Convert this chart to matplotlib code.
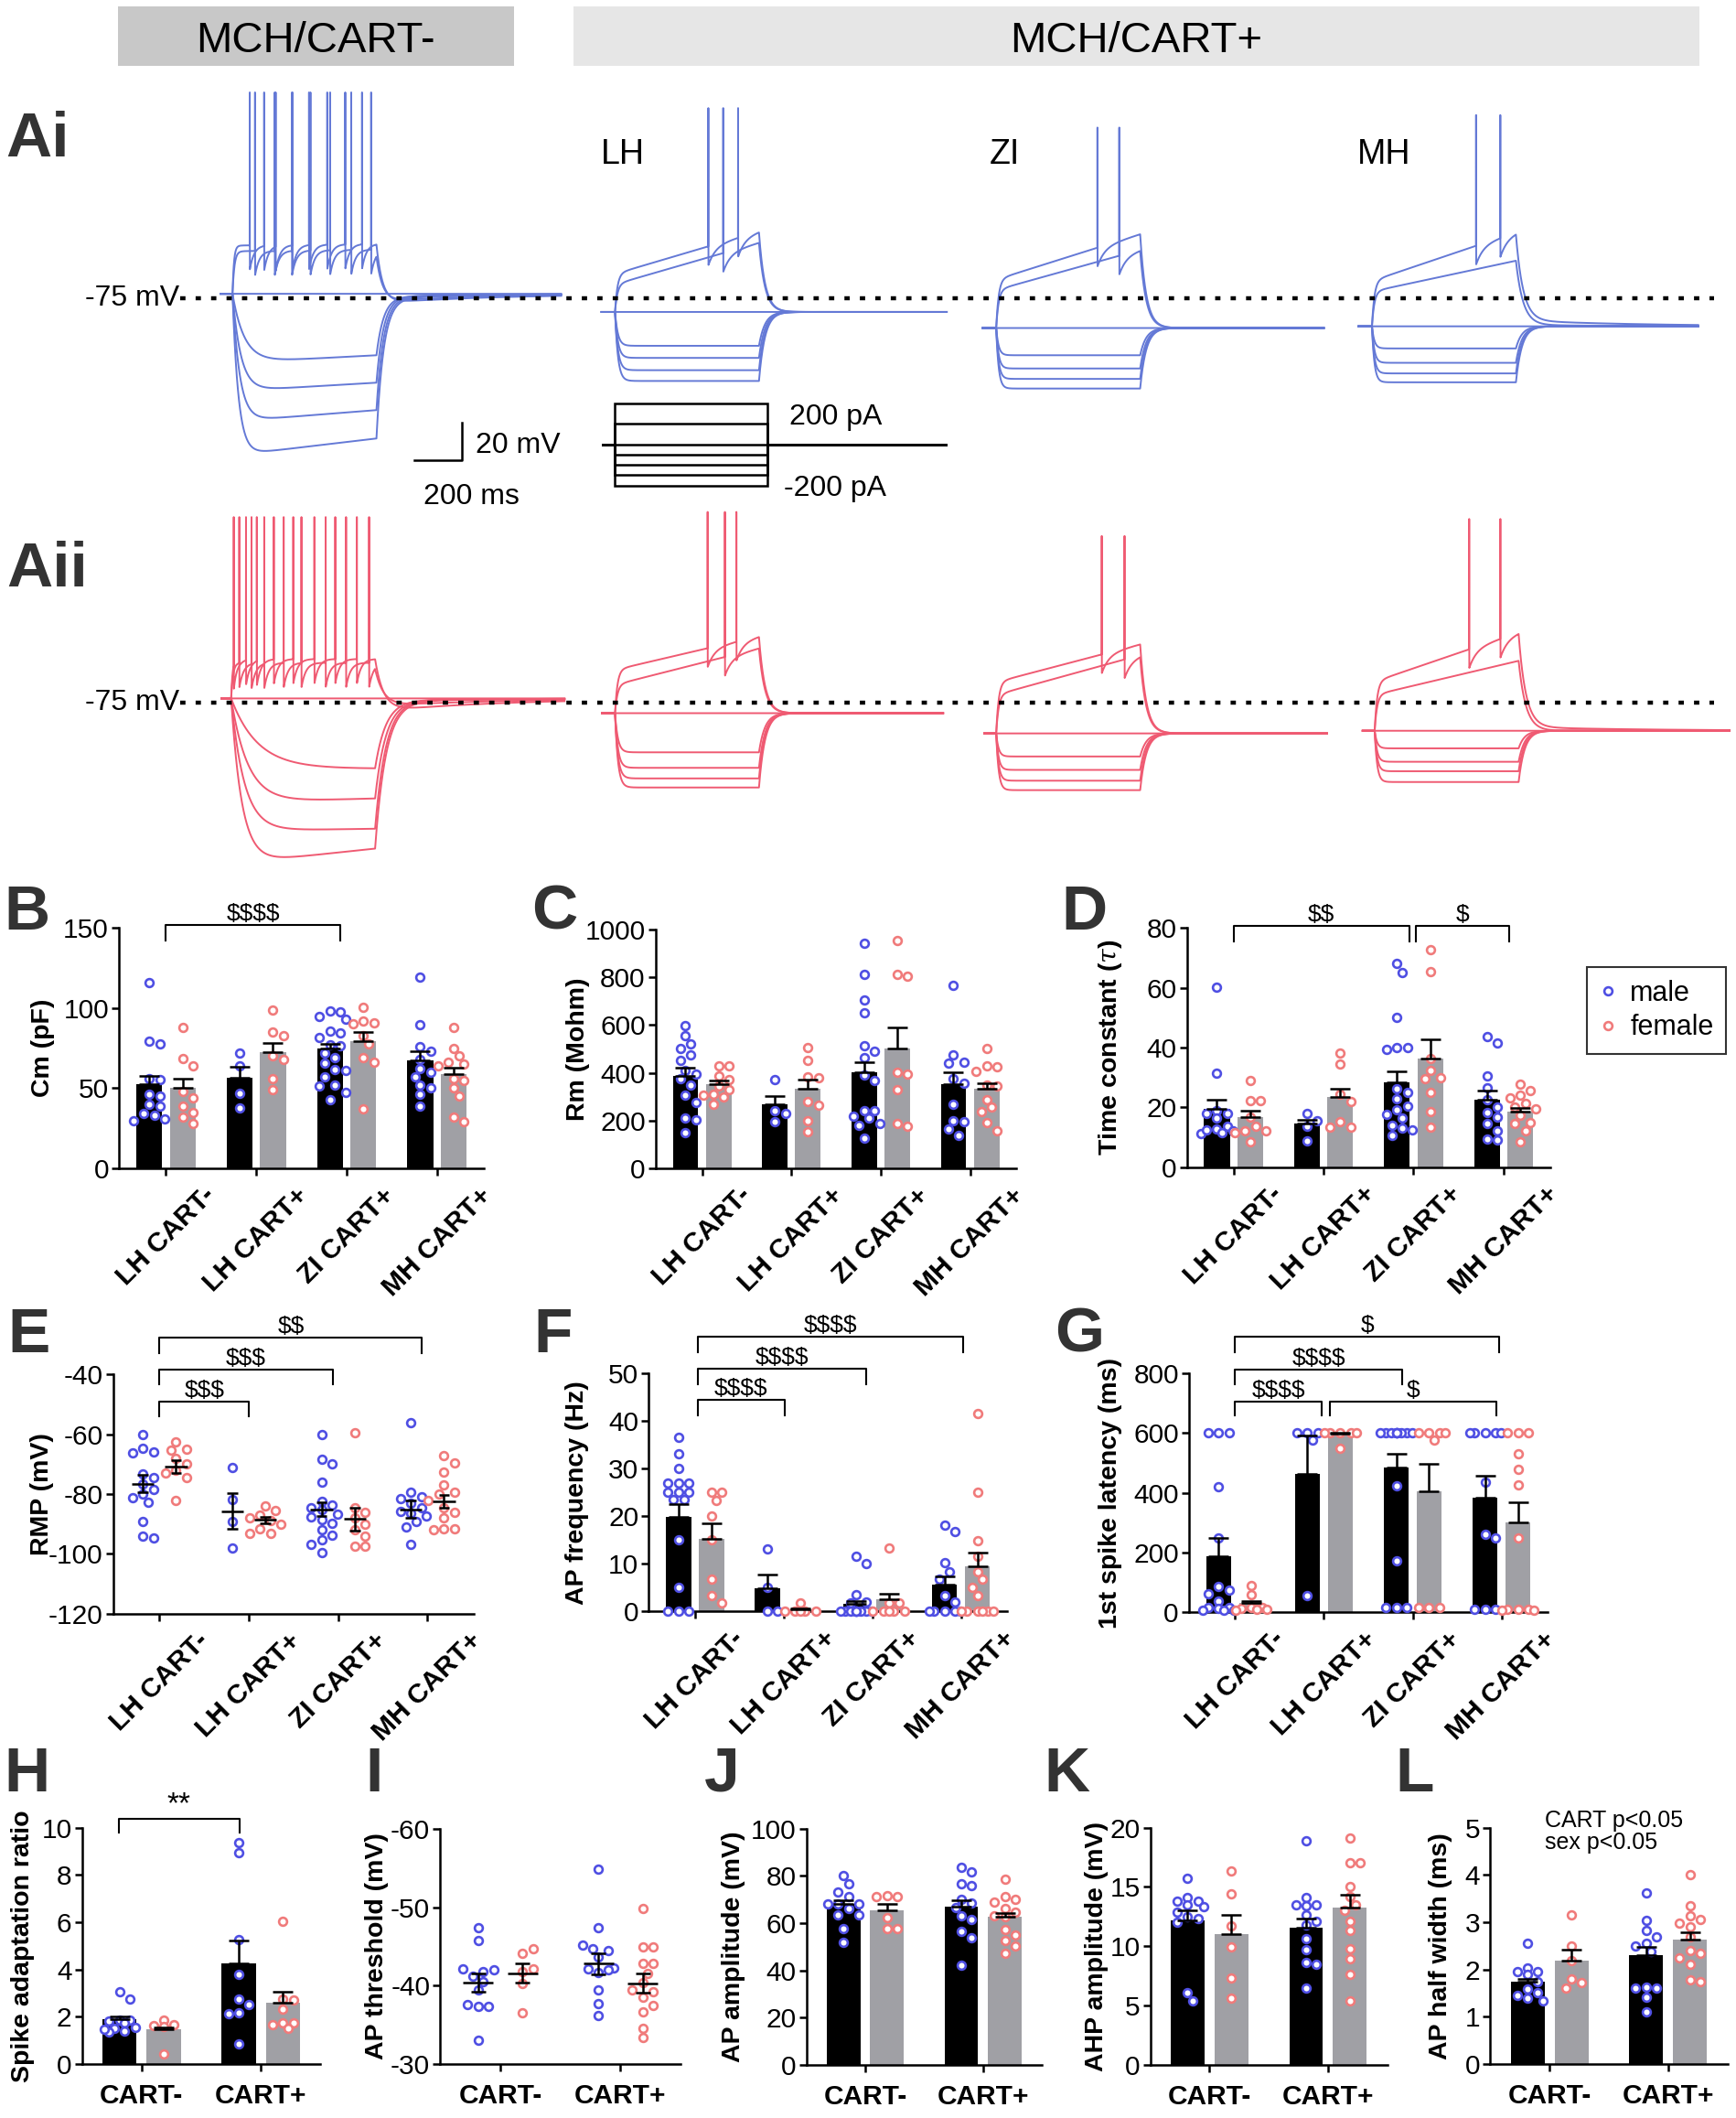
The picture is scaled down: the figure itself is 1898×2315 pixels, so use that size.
import numpy as np
import matplotlib
matplotlib.use('Agg')
import matplotlib.pyplot as plt
from matplotlib.lines import Line2D
from matplotlib.patches import Rectangle

plt.rcParams['font.family'] = ['Liberation Sans', 'DejaVu Sans']
plt.rcParams['axes.unicode_minus'] = False
plt.rcParams['mathtext.fontset'] = 'dejavuserif'

# ---------------- data ----------------
groups4 = ['LH CART-', 'LH CART+', 'ZI CART+', 'MH CART+']
groups2 = ['CART-', 'CART+']
sex_names = ['male', 'female']

# current steps (pA) used in the protocol
step_currents = [200, 100, 0, -50, -100, -150, -200]

# voltage traces: (v at step start, v at step end, tau on, tau off, v after step, spike times ms)
ai_neg_base = -72.5
ai_neg = [(-47.0, -46.0, 6, 25, -77.5, [72, 132, 180, 250, 319, 395, 470, 540]),
          (-50.0, -49.0, 8, 25, -76.5, [94, 176, 248, 325, 407, 495, 578]),
          (-72.5, -72.5, 10, 10, -72.5, []),
          (-109.0, -105.0, 50, 30, -74.0, []),
          (-124.0, -119.5, 35, 30, -74.0, []),
          (-140.0, -134.0, 30, 30, -74.5, []),
          (-158.0, -149.0, 25, 30, -75.0, [])]
ai_lh_base = -82.1
ai_lh = [(-62.0, -39.5, 10, 25, -82.1, [389, 513]),
         (-67.5, -45.5, 10, 25, -82.1, [451]),
         (-82.1, -82.1, 10, 10, -82.1, []),
         (-100.0, -100.0, 12, 25, -82.1, []),
         (-106.4, -106.4, 12, 25, -82.1, []),
         (-112.9, -112.9, 12, 25, -82.1, []),
         (-118.6, -118.6, 12, 25, -82.1, [])]
ai_zi_base = -90.6
ai_zi = [(-65.0, -41.0, 10, 25, -90.6, [422]),
         (-70.5, -49.3, 10, 25, -90.6, [513]),
         (-90.6, -90.6, 10, 10, -90.6, []),
         (-105.0, -105.0, 10, 25, -90.6, []),
         (-112.0, -112.0, 10, 25, -90.6, []),
         (-117.5, -117.5, 10, 25, -90.6, []),
         (-122.6, -122.6, 10, 25, -90.6, [])]
ai_mh_base = -89.7
ai_mh = [(-65.7, -40.0, 10, 30, -86.5, [434, 535]),
         (-71.3, -55.0, 10, 30, -89.0, []),
         (-89.7, -89.7, 10, 10, -89.7, []),
         (-101.4, -101.4, 10, 25, -89.7, []),
         (-109.0, -109.0, 10, 25, -89.7, []),
         (-114.6, -114.6, 10, 25, -89.7, []),
         (-119.3, -119.3, 10, 25, -89.7, [])]
aii_neg_base = -72.9
aii_neg = [(-52.0, -52.0, 6, 35, -80.0, [11, 62, 107, 178, 259, 347, 434, 524]),
           (-54.0, -54.0, 8, 35, -77.0, [34, 85, 138, 219, 293, 394, 479, 575]),
           (-72.9, -72.9, 10, 10, -72.9, []),
           (-110.0, -110.0, 110, 45, -74.0, []),
           (-128.0, -125.8, 70, 45, -74.0, []),
           (-143.0, -141.8, 55, 45, -74.0, []),
           (-160.4, -152.3, 45, 45, -74.5, [])]
aii_lh_base = -80.7
aii_lh = [(-57.8, -40.0, 10, 25, -80.7, [386, 506]),
          (-65.7, -46.4, 10, 25, -80.7, [458]),
          (-80.7, -80.7, 10, 10, -80.7, []),
          (-101.4, -101.4, 12, 25, -80.7, []),
          (-109.6, -109.6, 12, 25, -80.7, []),
          (-115.2, -115.2, 12, 25, -80.7, []),
          (-120.0, -120.0, 12, 25, -80.7, [])]
aii_zi_base = -91.4
aii_zi = [(-64.3, -44.3, 10, 25, -91.4, [440]),
          (-71.0, -50.0, 10, 25, -91.4, [535]),
          (-91.4, -91.4, 10, 10, -91.4, []),
          (-103.6, -103.6, 10, 25, -91.4, []),
          (-110.7, -110.7, 10, 25, -91.4, []),
          (-116.4, -116.4, 10, 25, -91.4, []),
          (-121.4, -121.4, 10, 25, -91.4, [])]
aii_mh_base = -90.0
aii_mh = [(-64.0, -38.0, 10, 30, -88.0, [394, 524]),
          (-71.0, -53.0, 10, 30, -90.0, []),
          (-90.0, -90.0, 10, 10, -90.0, []),
          (-99.3, -99.3, 10, 25, -90.0, []),
          (-106.4, -106.4, 10, 25, -90.0, []),
          (-111.4, -111.4, 10, 25, -90.0, []),
          (-117.1, -117.1, 10, 25, -90.0, [])]
spike_peaks_ai = [34, 25.7, 15.4, 22]
spike_peaks_aii = [23, 25.7, 13, 22]

# B  Cm (pF)
cm_male = [[116, 79.5, 77.5, 56, 55.5, 46.5, 45, 40, 39, 34.5, 33, 31, 30],
           [72, 64, 47, 38],
           [98, 97.8, 95, 93, 85.8, 84.5, 81.6, 77.3, 76.3, 72, 69.3, 65.9, 61.7, 61.3, 57, 52.2, 51.3, 47.5, 43],
           [119.6, 89.5, 76, 73, 68, 62, 60, 57, 52, 50, 46, 38.9]]
cm_female = [[88, 68.5, 64, 48, 44, 39, 35, 32, 28],
             [99, 85, 83, 70, 68, 56, 49],
             [100.6, 92, 90.6, 90, 83, 77.8, 69, 66.5, 37],
             [88, 75, 70, 66, 65, 64, 56, 55, 50, 45, 32, 29.4]]
cm_male_mean = [52.6, 56.8, 74.6, 67.4]
cm_male_sem = [5.3, 6.4, 3.2, 5.7]
cm_female_mean = [50.3, 72.7, 79.2, 59.0]
cm_female_sem = [5.7, 5.5, 5.7, 3.8]

# C  Rm (Mohm)
rm_male = [[596, 555, 522, 500, 475, 452, 410, 395, 376, 350, 306, 274, 210, 204, 149],
           [372, 240, 230, 195],
           [943, 813, 703, 652, 512, 490, 462, 389, 366, 242, 240, 217, 210, 187, 180, 127],
           [767, 475, 446, 440, 376, 355, 268, 201, 195, 166, 138]]
rm_female = [[430, 428, 385, 370, 345, 330, 312, 305, 300, 270],
             [507, 450, 382, 380, 280, 264, 201, 153],
             [952, 811, 803, 401, 395, 329, 187, 175],
             [500, 430, 427, 405, 350, 345, 289, 255, 238, 191, 159]]
rm_male_mean = [388.5, 267.5, 401, 353]
rm_male_sem = [31.5, 34.5, 45, 48]
rm_female_mean = [353, 335, 500.7, 335]
rm_female_sem = [14, 38, 89, 20]

# D  time constant
tau_male = [[60.1, 31.3, 18.9, 17.8, 17.8, 16.3, 13.8, 12.7, 11.2, 11.5, 12, 12.3],
            [17.8, 15.5, 13.8, 8.8],
            [68, 65, 50.1, 40, 40, 39.5, 26.2, 25, 22.9, 20.5, 19.2, 17.5, 16.5, 14, 13, 12.5, 10.7],
            [43.8, 41.6, 30.4, 26.5, 22.6, 20, 18.1, 16.6, 14.5, 12.2, 9.4, 9]]
tau_female = [[29, 22.1, 22.1, 16.6, 13.8, 12.2, 12.2, 11.4, 8.6],
              [38.2, 34.6, 24.5, 22, 15.3, 13.5, 13.2],
              [72.6, 65.4, 36.4, 32.4, 30, 29.5, 25, 18.5, 13.2],
              [27.7, 25.5, 24.2, 23, 21.4, 20.2, 19.5, 17.3, 15, 14.5, 12.2, 8.4]]
tau_male_mean = [19.4, 14.5, 28.3, 22.4]
tau_male_sem = [3.0, 1.3, 3.6, 3.1]
tau_female_mean = [16.8, 23.4, 36.2, 18.5]
tau_female_sem = [2.1, 2.9, 6.6, 1.2]

# E  RMP (mV)
rmp_male = [[-60, -64.6, -65.8, -66.3, -73.1, -74.4, -76.7, -78.5, -80, -81.1, -82.8, -89.2, -94, -94.6],
            [-71.2, -81.8, -89.2, -98.1],
            [-60.2, -68.3, -69.9, -76, -82.4, -83.6, -84.5, -85.1, -86.7, -87.7, -88.5, -89.7, -91.8, -93.8, -95.3, -96.7, -99.7],
            [-56.1, -79.5, -80.8, -81.5, -83.1, -84.6, -85.7, -86.5, -87.2, -89.2, -91, -96.7]]
rmp_female = [[-62.5, -65, -65.2, -68, -70, -72, -73, -74.4, -82],
              [-84, -85.5, -87, -88, -89, -90, -91.5, -93, -93],
              [-59.5, -84.6, -86, -88, -90, -92, -94, -97.5, -97.5],
              [-67, -69.5, -72.5, -77, -79.5, -80, -82, -84.5, -86, -88, -91.5, -91.5, -92]]
rmp_male_mean = [-76.5, -85.7, -85.1, -85.1]
rmp_male_sem = [2.85, 5.95, 2.35, 2.95]
rmp_female_mean = [-70.9, -88.7, -88.4, -82.4]
rmp_female_sem = [2.1, 1.1, 3.95, 2.1]

# F  AP frequency (Hz)
freq_male = [[36.6, 33.2, 30, 27, 27, 27, 25, 25, 25, 23.5, 23.5, 15, 5, 0, 0, 0],
             [13.2, 5.1, 0, 0],
             [11.6, 10, 3.5, 1.9, 1.7, 0, 0, 0, 0, 0, 0, 0, 0, 0, 0],
             [18.2, 16.8, 10.2, 8.3, 6.7, 3.3, 1.9, 0, 0, 0, 0, 0]]
freq_female = [[25.1, 25.1, 23.3, 20, 15, 6.7, 3.3, 1.7],
               [1.7, 0, 0, 0, 0, 0],
               [13.3, 1.7, 1.7, 0, 0, 0, 0, 0],
               [41.6, 25, 14.9, 11.5, 8.4, 6.7, 5.1, 3.3, 0, 0, 0, 0, 0, 0]]
freq_male_mean = [19.8, 4.8, 1.6, 5.6]
freq_male_sem = [2.7, 3.0, 0.5, 1.8]
freq_female_mean = [15.3, 0.5, 2.6, 9.5]
freq_female_sem = [3.2, 0.1, 1.1, 2.8]

# G  1st spike latency (ms)
lat_male = [[600, 600, 600, 420, 250, 86, 74, 61, 38, 15, 15, 12, 5, 5, 5],
            [600, 600, 600, 575, 55],
            [600, 600, 600, 600, 600, 600, 600, 600, 600, 600, 424, 172, 15, 15, 15],
            [600, 600, 600, 600, 600, 434, 261, 249, 10, 10, 10]]
lat_female = [[90, 57, 17, 15, 12, 10, 8, 5],
              [600, 600, 600, 600, 600, 549],
              [600, 600, 600, 600, 577, 15, 15, 15],
              [600, 600, 600, 529, 478, 427, 249, 10, 10, 10, 5, 5]]
lat_male_mean = [188, 462.5, 485, 384]
lat_male_sem = [61, 130, 46.6, 73]
lat_female_mean = [30.5, 596.7, 405.6, 300]
lat_female_sem = [7.1, 3, 92.4, 69]

# H  spike adaptation ratio
adapt_male = [[3.05, 2.75, 1.85, 1.85, 1.8, 1.75, 1.55, 1.5, 1.4, 1.35, 1.45],
              [9.38, 8.94, 5.25, 3.8, 2.75, 2.5, 2.13, 2.15, 0.86]]
adapt_female = [[1.85, 1.65, 1.61, 1.6, 0.43],
                [6.02, 2.75, 2.7, 2.32, 1.75, 1.74, 1.65, 1.5]]
adapt_male_mean = [1.9, 4.26]
adapt_male_sem = [0.1, 0.96]
adapt_female_mean = [1.45, 2.58]
adapt_female_sem = [0.1, 0.49]

# I  AP threshold (mV)
thr_male = [[-47.4, -45.8, -42.1, -42, -41.8, -41.2, -40.5, -39.4, -37.6, -37.4, -37.3, -33],
            [-54.9, -47.4, -45.2, -44.7, -44.5, -43.6, -42.3, -42.1, -42, -41.7, -39.4, -37.7, -36.2]]
thr_female = [[-44.7, -44.1, -42.1, -41.8, -40.3, -36.5],
              [-49.8, -44.9, -44.9, -42.8, -42.8, -41.5, -40.4, -39.4, -39.2, -38.5, -37.5, -36.6, -34.6, -33.4]]
thr_male_mean = [-40.4, -42.8]
thr_male_sem = [1.15, 1.35]
thr_female_mean = [-41.6, -40.3]
thr_female_sem = [1.2, 1.2]

# J  AP amplitude (mV)
amp_male = [[80, 76.5, 73.3, 71.3, 68.1, 68.1, 68.1, 66.2, 63.6, 63.5, 57.5, 52],
            [83.6, 81.5, 76.5, 76, 70, 68.5, 66.5, 63, 61.5, 56.5, 53.9, 42.3]]
amp_female = [[71, 71, 71.5, 62.3, 57.5, 57.5],
              [78.4, 71.3, 70, 69, 66, 64.5, 63, 62.5, 57.1, 55, 52.6, 50.4, 47.2]]
amp_male_mean = [67.9, 67.1]
amp_male_sem = [1.8, 2.6]
amp_female_mean = [65.5, 62.7]
amp_female_sem = [2.4, 1.5]

# K  AHP amplitude (mV)
ahp_male = [[15.75, 14.1, 13.8, 13.8, 13.5, 13.3, 12.85, 12.5, 12.3, 12, 6.1, 5.4],
            [18.9, 14.1, 13.4, 13.5, 13.5, 12.6, 12.1, 11.8, 10.6, 9.7, 8.6, 8.5, 6.5]]
ahp_female = [[16.35, 14.4, 11.7, 9.97, 7.35, 5.65],
              [19.1, 17, 17, 15, 14.2, 13.5, 13, 12.1, 11.3, 9.8, 8.9, 7.66, 5.35]]
ahp_male_mean = [12.16, 11.57]
ahp_male_sem = [0.84, 0.77]
ahp_female_mean = [11.0, 13.26]
ahp_female_sem = [1.6, 1.08]

# L  AP half width (ms)
hw_male = [[2.55, 2.03, 1.95, 1.95, 1.9, 1.75, 1.59, 1.45, 1.34, 1.4, 1.5],
           [3.61, 3.03, 2.82, 2.69, 2.56, 2.5, 2.37, 1.63, 1.6, 1.6, 1.42, 1.11]]
hw_female = [[3.16, 2.5, 2.18, 1.79, 1.72, 1.6],
             [4.0, 3.34, 3.13, 3.05, 2.97, 2.9, 2.69, 2.39, 2.35, 2.24, 2.1, 1.77, 1.74]]
hw_male_mean = [1.74, 2.30]
hw_male_sem = [0.06, 0.18]
hw_female_mean = [2.19, 2.63]
hw_female_sem = [0.23, 0.16]

# ---------------- style ----------------
BLUE_TRACE = '#6479d6'
RED_TRACE = '#ef5a72'
MALE = '#4f4fe3'
FEMALE = '#f07b7b'
GRAY_BAR = '#a0a0a5'
LETTER = '#333333'
MS, MEW = 6.3, 1.9
OFF, BW = 0.185, 0.285

W, H = 1285.0, 1568.0   # layout grid (reference scaled)
FIG_W, FIG_H = 1899, 2315


def fx(x):
    return x / W


def fy(y):
    return 1 - y / H


def rect(x0, y0, x1, y1):
    return [x0 / W, 1 - y1 / H, (x1 - x0) / W, (y1 - y0) / H]


fig = plt.figure(figsize=(FIG_W / 100, FIG_H / 100), dpi=100)

# ---------------- A: traces ----------------
MS_PER_PX = 1 / 0.1775
MV_PER_PX = 1 / 1.4


def draw_cell(ax, x_step, pre, post, base, traces, peak, color, ahp, tau_ahp):
    t = np.arange(-pre, 600 + post, 0.5)
    for v0, v1, ton, toff, vafter, spikes in traces:
        v = np.full_like(t, base)
        on = (t >= 0) & (t < 600)
        ts = t[on]
        target = v0 + (v1 - v0) * ts / 600
        v[on] = base + (target - base) * (1 - np.exp(-ts / ton))
        for s in spikes:
            after = on & (t > s)
            v[after] -= ahp * np.exp(-(t[after] - s) / tau_ahp)
        v_end = v[on][-1]
        off = t >= 600
        tp = t[off] - 600
        slow = base + (vafter - base) * np.exp(-tp / 500)
        v[off] = slow + (v_end - vafter) * np.exp(-tp / toff)
        for s in spikes:
            v[np.searchsorted(t, s)] = peak
        ax.plot(x_step * MS_PER_PX + t, v, color=color, lw=1.4)


def trace_row(y_top, y_bot, y_dot, cells, starts, pres, posts, peaks, color):
    ax = fig.add_axes(rect(0, y_top, W, y_bot))
    ax.set_xlim(0, W * MS_PER_PX)
    ax.set_ylim(-75 - (y_bot - y_dot) * MV_PER_PX, -75 + (y_dot - y_top) * MV_PER_PX)
    ax.axis('off')
    for k, (base, traces) in enumerate(cells):
        ahp, tau_ahp = (13, 18) if k == 0 else (10, 30)
        draw_cell(ax, starts[k], pres[k], posts[k], base, traces, peaks[k], color, ahp, tau_ahp)
    ax.plot([133 * MS_PER_PX, 1268 * MS_PER_PX], [-75, -75], color='black', lw=3.2,
            linestyle=(0, (1.3, 2.5)), zorder=5)
    fig.text(fx(133), fy(y_dot), '-75 mV', ha='right', va='center', fontsize=23)
    return ax


ax_ai = trace_row(55, 392, 221,
                  [(ai_neg_base, ai_neg), (ai_lh_base, ai_lh), (ai_zi_base, ai_zi), (ai_mh_base, ai_mh)],
                  [172, 455, 737, 1015], [50, 56, 56, 56], [770, 783, 766, 760],
                  spike_peaks_ai, BLUE_TRACE)
trace_row(370, 660, 520,
          [(aii_neg_base, aii_neg), (aii_lh_base, aii_lh), (aii_zi_base, aii_zi), (aii_mh_base, aii_mh)],
          [171, 455, 737, 1017], [40, 55, 50, 50], [790, 768, 780, 880],
          spike_peaks_aii, RED_TRACE)

# current step protocol + scale bars (in the Ai axes)
pa_scale = 0.152 * MV_PER_PX
i_base = -75 - (329 - 221) * MV_PER_PX
x0 = 455 * MS_PER_PX
for cur in step_currents:
    ax_ai.plot(x0 + np.array([-50, 0, 0, 635, 635, 1380]),
               i_base + pa_scale * np.array([0, 0, cur, cur, 0, 0]),
               color='black', lw=1.8, solid_joinstyle='miter')
sb_x = 342 * MS_PER_PX
sb_y = -75 - (341 - 221) * MV_PER_PX
ax_ai.plot([sb_x - 200, sb_x, sb_x], [sb_y, sb_y, sb_y + 20], color='black', lw=1.8)
fig.text(fx(351.6), fy(335), '20 mV', fontsize=23, va='baseline')
fig.text(fx(313.5), fy(373.5), '200 ms', fontsize=23, va='baseline')
fig.text(fx(584), fy(314.5), '200 pA', fontsize=23, va='baseline')
fig.text(fx(580), fy(367), '-200 pA', fontsize=23, va='baseline')

# headers and region labels
fig.add_artist(Rectangle((fx(87), fy(49)), (380 - 87) / W, 44 / H, transform=fig.transFigure,
                         facecolor='#c8c8c8', edgecolor='none', zorder=0))
fig.add_artist(Rectangle((fx(424), fy(49)), (1257 - 424) / W, 44 / H, transform=fig.transFigure,
                         facecolor='#e6e6e6', edgecolor='none', zorder=0))
fig.text(fx(233.5), fy(38.8), 'MCH/CART-', ha='center', va='baseline', fontsize=34)
fig.text(fx(840.5), fy(38.8), 'MCH/CART+', ha='center', va='baseline', fontsize=34)
for name, xl in [('LH', 444.7), ('ZI', 732), ('MH', 1004)]:
    fig.text(fx(xl), fy(121), name, fontsize=27, va='baseline')

# panel letters
for lab, xl, yb in [('Ai', 4, 116), ('Aii', 5, 434), ('B', 3, 688), ('C', 393, 688), ('D', 785, 688),
                    ('E', 6, 1001), ('F', 395, 1001), ('G', 780, 1001), ('H', 3, 1326),
                    ('I', 270, 1326), ('J', 521, 1326), ('K', 772, 1326), ('L', 1032, 1326)]:
    fig.text(fx(xl), fy(yb), lab, fontsize=50, fontweight='bold', color=LETTER, va='baseline')


# ---------------- bar / scatter panels ----------------
def make_axes(box, label_x, ylim, yticks, ylabel, cats):
    x0d, ytop, x1d, ybot = box
    ax = fig.add_axes(rect(x0d, ytop, x1d, ybot))
    n = len(cats)
    ax.set_xlim(-0.52 if n == 4 else -0.5, n - 1 + (0.52 if n == 4 else 0.5))
    ax.set_ylim(*ylim)
    ax.set_yticks(yticks)
    ax.set_yticklabels([str(v) for v in yticks])
    for side in ['top', 'right']:
        ax.spines[side].set_visible(False)
    for side in ['left', 'bottom']:
        ax.spines[side].set_linewidth(1.8)
    ax.tick_params(axis='both', width=1.8, length=6, labelsize=21.5, direction='out')
    ax.tick_params(axis='y', pad=2)
    ax.set_xticks(range(n))
    if n == 4:
        ax.tick_params(axis='x', pad=5)
        ax.set_xticklabels(cats, rotation=45, ha='center', va='top', fontweight='bold', fontsize=21.5)
    else:
        ax.tick_params(axis='x', pad=9)
        ax.set_xticklabels(cats, fontweight='bold', fontsize=21.5)
    ax.set_ylabel(ylabel, fontsize=20.5, fontweight='bold')
    ax.yaxis.set_label_coords((label_x - x0d) / (x1d - x0d), 0.5)
    ax.yaxis.label.set_va('center')
    return ax


def swarm(ax, vals, xc):
    bb = ax.get_position()
    xa, xb = ax.get_xlim()
    ya, yb = ax.get_ylim()
    sx = bb.width * FIG_W / (xb - xa)
    sy = bb.height * FIG_H / abs(yb - ya)
    d = (MS + MEW) * 100 / 72
    vals = np.asarray(vals, float)
    order = np.argsort(-vals, kind='stable')
    placed = []
    offs = np.zeros(len(vals))
    for i in order:
        y = vals[i] * sy
        best, best_d = 0.0, -1.0
        for s in [0, 0.5, -0.5, 1, -1, 1.5, -1.5]:
            cx = s * d
            md = min([np.hypot(cx - px, y - py) for px, py in placed], default=np.inf)
            if md >= 0.9 * d:
                best = cx
                break
            if md > best_d:
                best, best_d = cx, md
        placed.append((best, y))
        offs[i] = best / sx
    return xc + offs


def dots(ax, vals, xc, color):
    ax.plot(swarm(ax, vals, xc), vals, 'o', ms=MS, mfc='white', mec=color, mew=MEW,
            ls='none', zorder=3, clip_on=False)


def bar_panel(ax, mp, fp, mm, ms, fm, fs):
    n = len(mm)
    x = np.arange(n)
    ax.bar(x - OFF, mm, BW, color='black', zorder=1)
    ax.bar(x + OFF, fm, BW, color=GRAY_BAR, zorder=1)
    for i in range(n):
        dots(ax, mp[i], i - OFF, MALE)
        dots(ax, fp[i], i + OFF, FEMALE)
    for xs, m, s in [(x - OFF, mm, ms), (x + OFF, fm, fs)]:
        ax.errorbar(xs, m, yerr=[np.zeros(n), s], fmt='none', ecolor='black', elinewidth=1.8,
                    capsize=8, capthick=1.8, zorder=4)


def mean_panel(ax, mp, fp, mm, ms, fm, fs):
    n = len(mm)
    for i in range(n):
        dots(ax, mp[i], i - OFF, MALE)
        dots(ax, fp[i], i + OFF, FEMALE)
    for i in range(n):
        for xc, m, s in [(i - OFF, mm[i], ms[i]), (i + OFF, fm[i], fs[i])]:
            kw = dict(color='black', lw=1.8, zorder=4, solid_capstyle='butt')
            ax.plot([xc - 0.125, xc + 0.125], [m, m], **kw)
            ax.plot([xc, xc], [m - s, m + s], **kw)
            ax.plot([xc - 0.06, xc + 0.06], [m - s, m - s], **kw)
            ax.plot([xc - 0.06, xc + 0.06], [m + s, m + s], **kw)


def bracket(ax, x1, x2, y, y_leg, label, size=19):
    ax.plot([x1, x1, x2, x2], [y_leg, y, y, y_leg], color='black', lw=1.5, clip_on=False)
    ax.text((x1 + x2) / 2, y, label.replace('$', r'\$'), ha='center', va='bottom',
            fontsize=size, clip_on=False)


# B
ax = make_axes((88, 687, 358, 865), 31.7, (0, 150), [0, 50, 100, 150], 'Cm (pF)', groups4)
bar_panel(ax, cm_male, cm_female, cm_male_mean, cm_male_sem, cm_female_mean, cm_female_sem)
bracket(ax, 0.0, 1.93, 152, 142, '$$$$')

# C
ax = make_axes((485, 688, 752, 865), 427.6, (0, 1000), [0, 200, 400, 600, 800, 1000], 'Rm (Mohm)', groups4)
bar_panel(ax, rm_male, rm_female, rm_male_mean, rm_male_sem, rm_female_mean, rm_female_sem)

# D
ax = make_axes((878, 687, 1147, 864), 821.7, (0, 80), [0, 20, 40, 60, 80], 'Time constant ($\\tau$)', groups4)
bar_panel(ax, tau_male, tau_female, tau_male_mean, tau_male_sem, tau_female_mean, tau_female_sem)
bracket(ax, 0.0, 1.95, 80.8, 75.6, '$$')
bracket(ax, 2.03, 3.06, 80.8, 75.6, '$')

handles = [Line2D([], [], marker='o', ls='none', mfc='white', mec=c, mew=MEW, ms=MS) for c in (MALE, FEMALE)]
leg = fig.legend(handles, sex_names, loc='upper left', bbox_to_anchor=(fx(1174), fy(716)), frameon=True,
                 fancybox=False, edgecolor='black', fontsize=22, handlelength=0.6, handletextpad=0.5,
                 borderpad=0.45, labelspacing=0.25, borderaxespad=0)
leg.get_frame().set_linewidth(1.5)

# E
ax = make_axes((83.6, 1017.6, 350.6, 1194.6), 31.4, (-120, -40), [-120, -100, -80, -60, -40], 'RMP (mV)', groups4)
mean_panel(ax, rmp_male, rmp_female, rmp_male_mean, rmp_male_sem, rmp_female_mean, rmp_female_sem)
bracket(ax, 0, 1.0, -49, -54, '$$$')
bracket(ax, 0, 1.94, -38.3, -43.4, '$$$')
bracket(ax, 0, 2.94, -27.6, -32.7, '$$')

# F
ax = make_axes((480, 1016.7, 745, 1193), 427, (0, 50), [0, 10, 20, 30, 40, 50], 'AP frequency (Hz)', groups4)
bar_panel(ax, freq_male, freq_female, freq_male_mean, freq_male_sem, freq_female_mean, freq_female_sem)
bracket(ax, 0.03, 1.01, 44.4, 41.2, '$$$$')
bracket(ax, 0.03, 1.93, 51.0, 47.8, '$$$$')
bracket(ax, 0.03, 3.02, 57.7, 54.5, '$$$$')

# G
ax = make_axes((879.6, 1016.7, 1145, 1193.5), 821.6, (0, 800), [0, 200, 400, 600, 800], '1st spike latency (ms)', groups4)
bar_panel(ax, lat_male, lat_female, lat_male_mean, lat_male_sem, lat_female_mean, lat_female_sem)
bracket(ax, 0, 0.97, 706.5, 657.7, '$$$$')
bracket(ax, 0, 1.88, 813, 762, '$$$$')
bracket(ax, 0, 2.97, 922, 871, '$')
bracket(ax, 1.07, 2.94, 706.5, 657.7, '$')

# H
ax = make_axes((60.7, 1353, 237, 1528), 17, (0, 10), [0, 2, 4, 6, 8, 10], 'Spike adaptation ratio', groups2)
bar_panel(ax, adapt_male, adapt_female, adapt_male_mean, adapt_male_sem, adapt_female_mean, adapt_female_sem)
bracket(ax, -0.19, 0.82, 10.36, 9.8, '**', size=24)

# I
ax = make_axes((325.7, 1354, 503.5, 1528), 279, (-30, -60), [-30, -40, -50, -60], 'AP threshold (mV)', groups2)
mean_panel(ax, thr_male, thr_female, thr_male_mean, thr_male_sem, thr_female_mean, thr_female_sem)

# J
ax = make_axes((596.5, 1353.7, 771, 1528.6), 543, (0, 100), [0, 20, 40, 60, 80, 100], 'AP amplitude (mV)', groups2)
bar_panel(ax, amp_male, amp_female, amp_male_mean, amp_male_sem, amp_female_mean, amp_female_sem)

# K
ax = make_axes((851, 1353, 1026.3, 1528.6), 811.5, (0, 20), [0, 5, 10, 15, 20], 'AHP amplitude (mV)', groups2)
bar_panel(ax, ahp_male, ahp_female, ahp_male_mean, ahp_male_sem, ahp_female_mean, ahp_female_sem)

# L
ax = make_axes((1102.4, 1353, 1278, 1528), 1065.6, (0, 5), [0, 1, 2, 3, 4, 5], 'AP half width (ms)', groups2)
bar_panel(ax, hw_male, hw_female, hw_male_mean, hw_male_sem, hw_female_mean, hw_female_sem)
fig.text(fx(1143), fy(1340), 'CART p<0.05\nsex p<0.05', fontsize=18, va='top', linespacing=1.0)

fig.savefig('out.png', dpi=100)
